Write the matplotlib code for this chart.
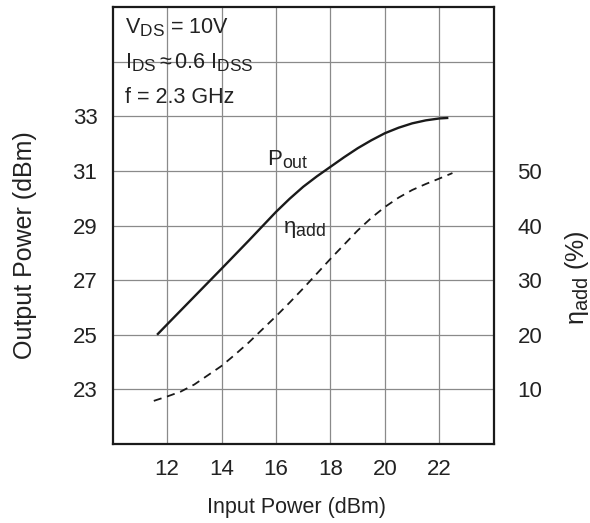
import matplotlib
matplotlib.use("Agg")
import matplotlib.pyplot as plt
import numpy as np
try:
    import matplotlib._mathtext as _mt
    _mt.SHRINK_FACTOR = 0.8
except Exception:
    pass

plt.rcParams['font.family'] = ['Liberation Sans', 'DejaVu Sans']
plt.rcParams['mathtext.fontset'] = 'custom'
plt.rcParams['mathtext.rm'] = 'Liberation Sans'
plt.rcParams['mathtext.it'] = 'Liberation Sans'
plt.rcParams['mathtext.default'] = 'rm'

# Data
pin_pout = [11.63, 12, 13, 14, 15, 16, 16.5, 17, 17.5, 18, 18.5, 19, 19.5, 20, 20.5, 21, 21.5, 22, 22.33]
pout = [25.0, 25.38, 26.4, 27.42, 28.45, 29.5, 29.98, 30.42, 30.8, 31.15, 31.5, 31.83, 32.12, 32.38, 32.58, 32.74, 32.85, 32.92, 32.94]
pin_eta = [11.51, 12, 12.5, 13, 13.5, 14, 14.5, 15, 15.5, 16, 16.5, 17, 17.5, 18, 18.5, 19, 19.5, 20, 20.5, 21, 21.5, 22, 22.48]
eta = [7.9, 8.7, 9.6, 10.9, 12.6, 14.3, 16.4, 18.6, 21.0, 23.4, 25.9, 28.5, 31.2, 33.9, 36.5, 39.1, 41.4, 43.4, 45.1, 46.5, 47.6, 48.6, 49.6]

x_ticks = [12, 14, 16, 18, 20, 22]
y_ticks = [23, 25, 27, 29, 31, 33, 35]
y_ticklabels = ['23', '25', '27', '29', '31', '33', '']
eta_ticks = [10, 20, 30, 40, 50]

txt = '#222222'
fig = plt.figure(figsize=(5.9, 5.23), dpi=100)
ax = fig.add_axes([0.191, 0.151, 0.646, 0.8356])
ax.set_xlim(10, 24)
ax.set_ylim(21, 37)
ax.set_xticks(x_ticks)
ax.set_yticks(y_ticks)
ax.set_yticklabels(y_ticklabels)
ax.grid(True, color='#8a8a8a', linewidth=0.9)
ax.set_axisbelow(True)
ax.tick_params(length=0, labelsize=16, colors=txt)
ax.tick_params(axis='y', pad=11)
ax.tick_params(axis='x', pad=11)
for s in ax.spines.values():
    s.set_linewidth(1.6)
    s.set_color('#1a1a1a')

ax.plot(pin_pout, pout, color='#1a1a1a', lw=1.7, solid_capstyle='butt')

ax2 = ax.twinx()
ax2.set_ylim(0, 80)
ax2.set_yticks(eta_ticks)
ax2.tick_params(length=0, labelsize=16, colors=txt, pad=17)
for s in ax2.spines.values():
    s.set_visible(False)
ax2.plot(pin_eta, eta, color='#1a1a1a', lw=1.3, dashes=(4.5, 3.2))

ax.text(15.65, 31.4, r'$\mathrm{P_{out}}$', fontsize=16, color=txt, va='center', ha='left')
ax.text(16.24, 28.85, r'$\mathrm{η_{add}}$', fontsize=16, color=txt, va='center', ha='left')

ax.text(10.45, 36.25, r'$\mathrm{V_{DS}}$ = 10V', fontsize=15.5, color=txt, va='center', ha='left')
ax.text(10.45, 34.95, r'$\mathrm{I_{DS}}$$\approx$0.6 $\mathrm{I_{DSS}}$', fontsize=15.5, color=txt, va='center', ha='left')
ax.text(10.45, 33.7, 'f = 2.3 GHz', fontsize=15.5, color=txt, va='center', ha='left')

fig.text(297/590, 1 - 508/523, 'Input Power (dBm)', fontsize=15.5, color=txt, ha='center', va='center')
fig.text(25/590, 1 - 245/523, 'Output Power (dBm)', fontsize=18, color=txt, ha='center', va='center', rotation=90)
fig.text(577/590, 1 - 278/523, r'$\mathrm{η_{add}}$ (%)', fontsize=18, color=txt, ha='center', va='center', rotation=90)

fig.savefig('out.png', dpi=100)
